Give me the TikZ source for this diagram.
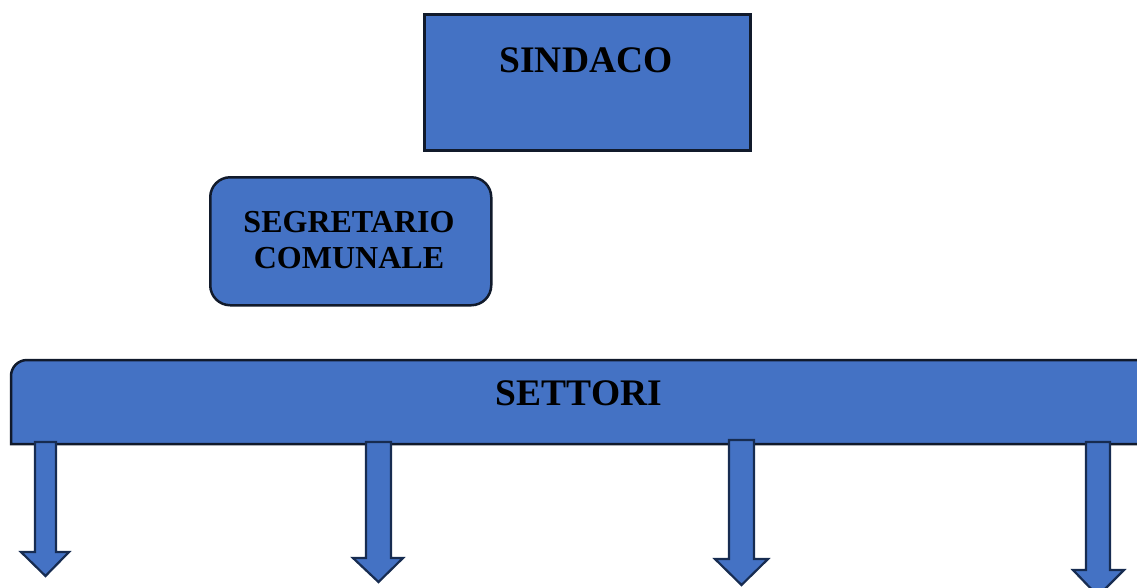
\documentclass[tikz,border=0pt]{standalone}
\usepackage{fontspec}
\setmainfont{Liberation Serif}
\begin{document}
\begin{tikzpicture}[x=1pt,y=-1pt,
  boxstyle/.style={draw=boxline,fill=boxfill,line width=2.5pt},
  arrowstyle/.style={draw=arrowline,fill=boxfill,line width=2.2pt,line join=miter},
  lbl/.style={inner sep=0pt,font=\bfseries},
]
\definecolor{boxfill}{HTML}{4472C4}
\definecolor{boxline}{HTML}{111A2B}
\definecolor{arrowline}{HTML}{172C51}
\useasboundingbox (0,0) rectangle (1137,587);
\clip (0,0) rectangle (1137,587);
% SINDACO
\node[boxstyle,minimum width=326pt,minimum height=136pt,anchor=north west,inner sep=0pt] (sindaco) at (423,13) {};
\node[lbl,font=\bfseries\fontsize{37.5}{40}\selectfont] (sindacotxt) at (586,60) {SINDACO};
% SEGRETARIO COMUNALE
\node[boxstyle,rounded corners=20pt,minimum width=281pt,minimum height=128pt,anchor=north west,inner sep=0pt] (segr) at (209,176) {};
\node[lbl,font=\bfseries\fontsize{32}{36}\selectfont,align=center] (segrtxt) at (349,240) {SEGRETARIO\\COMUNALE};
% SETTORI bar
\draw[boxstyle] (1160,444) -- (11,444) [rounded corners=16pt]-- (11,360) [sharp corners]-- (1160,360) -- cycle;
\node[lbl,font=\bfseries\fontsize{37.5}{40}\selectfont] (settoritxt) at (579,393) {SETTORI};
% arrows
\newcommand{\blockarrow}[7]{% xl xr ytop ybase hl hr ytip
  \draw[arrowstyle] (#1,#3) -- (#2,#3) -- (#2,#4) -- (#6,#4) -- ({(#1+#2)/2},#7) -- (#5,#4) -- (#1,#4) -- cycle;}
\blockarrow{35}{56}{442}{552}{21}{69}{576}
\blockarrow{366}{391}{442}{558}{353}{403}{582}
\blockarrow{729}{754}{440}{559}{715}{768}{585}
\blockarrow{1086}{1110}{442}{570}{1073}{1124}{596}
\end{tikzpicture}
\end{document}
